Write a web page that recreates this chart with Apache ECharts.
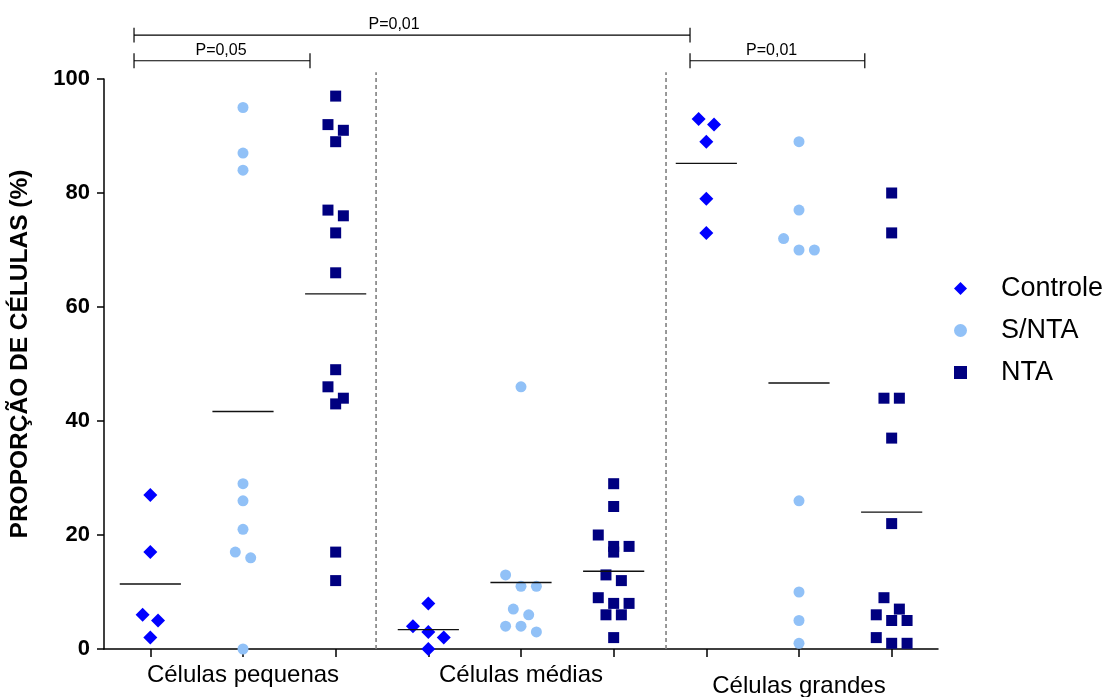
<!DOCTYPE html>
<html><head><meta charset="utf-8">
<script src="https://cdn.jsdelivr.net/npm/echarts@6/dist/echarts.min.js"></script>
<style>html,body{margin:0;padding:0;background:#fff}#c{width:1110px;height:697px}</style>
</head><body><div id="c"></div>
<script>
// ---- data ----
const categories = ['Células pequenas', 'Células médias', 'Células grandes'];
const seriesNames = ['Controle', 'S/NTA', 'NTA'];
const controle = [[27, 17, 6, 5, 2], [8, 4, 3, 2, 0], [93, 92, 89, 79, 73]];
const snta = [[95, 87, 84, 29, 26, 21, 17, 16, 0], [46, 13, 11, 11, 7, 6, 4, 4, 3], [89, 77, 72, 70, 70, 26, 10, 5, 1]];
const nta = [[97, 92, 91, 89, 77, 76, 73, 66, 49, 46, 44, 43, 17, 12],
             [29, 25, 20, 18, 18, 17, 13, 12, 9, 8, 8, 6, 6, 2],
             [80, 73, 44, 44, 37, 22, 9, 7, 6, 5, 5, 2, 1, 1]];
const yTicks = [0, 20, 40, 60, 80, 100];
const pLabels = ['P=0,01', 'P=0,05', 'P=0,01'];
const yName = 'PROPORÇÃO DE CÉLULAS (%)';

// ---- styling / layout ----
const FONT = '"Liberation Sans", Arial, Helvetica, sans-serif';
const colors = ['#0000FF', '#91C1F7', '#000080'];
const symbols = ['diamond', 'circle', 'rect'];
const symbolSizes = [14, 11, 11];
const groups = [controle, snta, nta];
const nPos = categories.length * seriesNames.length;
const xPos = (g, s) => g * seriesNames.length + s;
const mean = a => a.reduce((p, c) => p + c, 0) / a.length;

const chart = echarts.init(document.getElementById('c'), null, { renderer: 'canvas' });

const catData = [];
for (let i = 0; i < nPos; i++) {
  const g = Math.floor(i / seriesNames.length), s = i % seriesNames.length;
  if (s === 1) {
    const item = { value: categories[g] };
    if (g === 2) item.textStyle = { padding: [11, 0, 0, 0] };
    catData.push(item);
  } else catData.push('');
}

function buildOption(offsets) {
  const scatter = seriesNames.map((name, s) => ({
    type: 'scatter', name, xAxisIndex: 1, yAxisIndex: 0,
    symbol: symbols[s], symbolSize: symbolSizes[s],
    itemStyle: { color: colors[s], opacity: 1 },
    emphasis: { disabled: true },
    z: 3,
    data: groups[s].flatMap((vals, g) => vals.map((v, i) => [xPos(g, s) + (offsets ? offsets[s][g][i] : 0), v]))
  }));
  const meanData = [];
  groups.forEach((gArr, s) => gArr.forEach((vals, g) => meanData.push([xPos(g, s), mean(vals)])));
  const means = {
    type: 'custom', xAxisIndex: 1, yAxisIndex: 0, z: 5, silent: true,
    data: meanData,
    renderItem: (params, api) => {
      const x = api.value(0), m = api.value(1);
      const p1 = api.coord([x - 0.33, m]), p2 = api.coord([x + 0.33, m]);
      return { type: 'line', shape: { x1: p1[0], y1: p1[1], x2: p2[0], y2: p2[1] },
               style: { stroke: '#111', lineWidth: 1.3 } };
    }
  };
  const separators = {
    type: 'custom', xAxisIndex: 1, yAxisIndex: 0, z: 1, silent: true,
    data: [[2.436], [5.565]],
    renderItem: (params, api) => {
      const x = api.value(0);
      const p1 = api.coord([x, 0]), p2 = api.coord([x, 101.2]);
      return { type: 'line', shape: { x1: p1[0], y1: p1[1], x2: p2[0], y2: p2[1] },
               style: { stroke: '#808080', lineWidth: 1.6, lineDash: [4, 3] } };
    }
  };
  // [x1, x2, y, tick half-height, labelX, labelY, label index]
  const brackets = {
    type: 'custom', xAxisIndex: 1, yAxisIndex: 0, z: 4, silent: true,
    data: [[-0.176, 5.824, 107.7, 1.3, 2.63, 109.6, 0],
           [-0.176, 1.723, 103.2, 1.3, 0.763, 104.9, 1],
           [5.824, 7.71, 103.2, 1.3, 6.705, 104.9, 2]],
    renderItem: (params, api) => {
      const x1 = api.value(0), x2 = api.value(1), y = api.value(2), t = api.value(3);
      const a = api.coord([x1, y]), b = api.coord([x2, y]);
      const a1 = api.coord([x1, y + t]), a2 = api.coord([x1, y - t]);
      const b1 = api.coord([x2, y + t]), b2 = api.coord([x2, y - t]);
      const lp = api.coord([api.value(4), api.value(5)]);
      const st = { stroke: '#000', lineWidth: 1.2 };
      return { type: 'group', children: [
        { type: 'line', shape: { x1: a[0], y1: a[1], x2: b[0], y2: b[1] }, style: st },
        { type: 'line', shape: { x1: a1[0], y1: a1[1], x2: a2[0], y2: a2[1] }, style: st },
        { type: 'line', shape: { x1: b1[0], y1: b1[1], x2: b2[0], y2: b2[1] }, style: st },
        { type: 'text', x: lp[0], y: lp[1], style: { text: pLabels[api.value(6)], fill: '#000',
          font: '16px ' + FONT, align: 'center', verticalAlign: 'middle' } }
      ] };
    }
  };
  return {
    animation: false,
    backgroundColor: '#fff',
    grid: { left: 104, right: 172, top: 79, bottom: 48, containLabel: false, outerBoundsMode: 'none' },
    legend: {
      orient: 'vertical', left: 949, top: 270, itemGap: 15, itemWidth: 13, itemHeight: 13,
      data: seriesNames, selectedMode: false,
      textStyle: { fontFamily: FONT, fontSize: 27, color: '#000', padding: [0, 0, 0, 29] }
    },
    xAxis: [
      { type: 'category', data: catData, boundaryGap: true,
        axisLine: { lineStyle: { color: '#000', width: 1.5 } },
        axisTick: { show: true, alignWithLabel: true, interval: 0, length: 8, lineStyle: { color: '#000', width: 1.5 } },
        axisLabel: { interval: 0, margin: 14, color: '#000', fontFamily: FONT, fontSize: 24 },
        splitLine: { show: false } },
      { type: 'value', min: -0.5, max: nPos - 0.5, show: false, splitLine: { show: false } }
    ],
    yAxis: [{
      type: 'value', min: yTicks[0], max: yTicks[yTicks.length - 1], interval: yTicks[1] - yTicks[0],
      name: yName, nameLocation: 'middle', nameGap: 71, nameRotate: 90,
      nameTextStyle: { fontFamily: FONT, fontSize: 24.5, fontWeight: 'bold', color: '#000', padding: [0, 0, 0, 20] },
      axisLine: { show: true, onZero: false, lineStyle: { color: '#000', width: 1.5 } },
      axisTick: { show: true, length: 7, lineStyle: { color: '#000', width: 1.5 } },
      axisLabel: { margin: 14, color: '#000', fontFamily: FONT, fontSize: 22, fontWeight: 'bold' },
      splitLine: { show: false }
    }],
    series: [...scatter, separators, means, brackets]
  };
}

chart.setOption(buildOption(null));

// beeswarm-style spreading of overlapping points (computed in pixel space)
function computeOffsets() {
  const unitX = chart.convertToPixel({ xAxisIndex: 1 }, 1) - chart.convertToPixel({ xAxisIndex: 1 }, 0);
  return groups.map((gArr, s) => gArr.map(vals => {
    const size = 11;
    const slot = 1.4 * size / unitX, binH = 1.1 * size;
    const ys = vals.map(v => chart.convertToPixel({ yAxisIndex: 0 }, v));
    const order = vals.map((v, i) => i).sort((a, b) => vals[b] - vals[a] || a - b);
    const off = new Array(vals.length).fill(0);
    let bin = [];
    const flush = () => { const n = bin.length; bin.forEach((idx, k) => { off[idx] = (k - (n - 1) / 2) * slot; }); bin = []; };
    order.forEach(i => { if (bin.length && ys[i] - ys[bin[0]] > binH) flush(); bin.push(i); });
    flush();
    return off;
  }));
}
chart.setOption(buildOption(computeOffsets()), true);
</script></body></html>
